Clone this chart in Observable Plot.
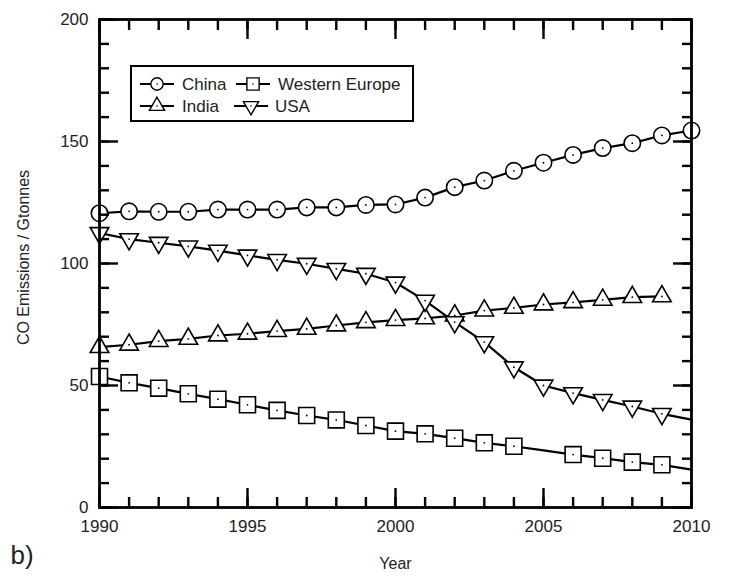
<!DOCTYPE html>
<html><head><meta charset="utf-8">
<script src="https://cdn.jsdelivr.net/npm/d3@7"></script>
<script src="https://cdn.jsdelivr.net/npm/@observablehq/plot@0.6"></script>
<style>
body{margin:0;background:#fff;font-family:"Liberation Sans",Arial,sans-serif}
#wrap{position:relative;width:729px;height:578px}
#legend{position:absolute;left:0;top:0;pointer-events:none}
</style>
</head><body><div id="wrap"></div>
<script>
const years = [1990,1991,1992,1993,1994,1995,1996,1997,1998,1999,2000,2001,2002,2003,2004,2005,2006,2007,2008,2009,2010];
const china = [120.6,121.4,121.2,121.2,122.1,122.1,122.1,123,123,124,124.2,127,131.3,134,138,141.3,144.5,147.3,149.3,152.5,154.5];
const india = [65.7,66.7,68.2,69.1,70.5,71.2,72.3,73.2,74.6,75.9,76.8,77.5,78.7,80.7,81.8,83.2,84.1,85.1,86.2,86.5];
const westernEurope = [53.7,51.1,48.9,46.6,44.4,42.1,39.8,37.7,35.9,33.6,31.3,30.2,28.4,26.5,25.1,23.4,21.7,20.2,18.6,17.5,15.5];
const usa = [112.5,110,108.5,107,105.3,103.3,101.5,99.9,97.8,95.8,92.2,84.8,76,67.8,57.5,50,46.9,44.1,41.4,38.4,36];
const westernEuropeNoMarker = [2005, 2010];
const usaNoMarker = [2010];
const seriesNames = ["China", "Western Europe", "India", "USA"];
const xMajorTicks = [1990, 1995, 2000, 2005, 2010];
const xMinorTicks = years;
const yMajorTicks = [0, 50, 100, 150, 200];
const yMinorTicks = [0,10,20,30,40,50,60,70,80,90,100,110,120,130,140,150,160,170,180,190,200];

function rowsOf(name, vals, skip = []) {
  return vals.map((v, i) => ({series: name, year: years[i], value: v, marker: !skip.includes(years[i])}));
}
const rows = [
  ...rowsOf("China", china),
  ...rowsOf("Western Europe", westernEurope, westernEuropeNoMarker),
  ...rowsOf("India", india),
  ...rowsOf("USA", usa, usaNoMarker)
];
const markerRows = rows.filter(d => d.marker);
const bySeries = s => markerRows.filter(d => d.series === s);

const sym = {"China": {symbol: "circle", r: 8.2, rotate: 0},
             "Western Europe": {symbol: "square", r: 9, rotate: 0},
             "India": {symbol: "triangle", r: 6.9, rotate: 0},
             "USA": {symbol: "triangle", r: 6.9, rotate: 180}};

const tickAxis = (fn, ticks, anchor, size) =>
  fn({ticks, anchor, tickSize: size, tickFormat: () => "", label: null, strokeWidth: 2.4});

const marks = [
  Plot.line(rows, {x: "year", y: "value", z: "series", stroke: "black", strokeWidth: 2.2}),
  ...seriesNames.map(s => Plot.dot(bySeries(s), {x: "year", y: "value", symbol: sym[s].symbol, r: sym[s].r, rotate: sym[s].rotate, fill: "white", stroke: "black", strokeWidth: 1.6})),
  Plot.dot(markerRows, {x: "year", y: "value", r: 0.9, fill: "black"}),
  // ticks inward, all four sides
  tickAxis(Plot.axisX, xMinorTicks, "bottom", -10),
  tickAxis(Plot.axisX, xMajorTicks, "bottom", -19),
  tickAxis(Plot.axisX, xMinorTicks, "top", -10),
  tickAxis(Plot.axisX, xMajorTicks, "top", -19),
  tickAxis(Plot.axisY, yMinorTicks, "left", -10),
  tickAxis(Plot.axisY, yMajorTicks, "left", -19),
  tickAxis(Plot.axisY, yMinorTicks, "right", -10),
  tickAxis(Plot.axisY, yMajorTicks, "right", -19),
  // tick labels
  Plot.axisX({ticks: xMajorTicks, anchor: "bottom", tickSize: 0, tickPadding: 12, tickFormat: d => String(d), label: null, fontSize: 17, fill: "#222"}),
  Plot.axisY({ticks: yMajorTicks, anchor: "left", tickSize: 0, tickPadding: 11, tickFormat: d => String(d), label: null, fontSize: 17, fill: "#222"}),
  Plot.frame({stroke: "black", strokeWidth: 2.8}),
  Plot.text(["Year"], {frameAnchor: "bottom", dy: 56, fontSize: 16, lineAnchor: "middle", textAnchor: "middle", fill: "#222"}),
  Plot.text(["CO Emissions / Gtonnes"], {frameAnchor: "left", dx: -76, dy: -6, rotate: -90, fontSize: 16, lineAnchor: "middle", textAnchor: "middle", fill: "#222"}),
  Plot.text(["b)"], {frameAnchor: "bottom-left", dx: -89, dy: 48, fontSize: 26, lineAnchor: "middle", textAnchor: "start", fill: "#222"})
];

const chart = Plot.plot({
  width: 729, height: 578,
  marginLeft: 99, marginRight: 38, marginTop: 19, marginBottom: 71,
  x: {domain: [1990, 2010], axis: null},
  y: {domain: [0, 200], axis: null},
  style: {fontFamily: "Liberation Sans, Arial, sans-serif", background: "white", overflow: "visible"},
  marks
});
const wrap = document.getElementById("wrap");
wrap.appendChild(chart);

// legend overlay
const lg = d3.select(wrap).append("svg").attr("id", "legend").attr("width", 729).attr("height", 578)
  .style("font-family", "Liberation Sans, Arial, sans-serif");
lg.append("rect").attr("x", 131).attr("y", 66).attr("width", 282).attr("height", 55)
  .attr("fill", "white").attr("stroke", "black").attr("stroke-width", 2);
const items = [
  {name: "China", lx1: 140, lx2: 174, cx: 157, cy: 84, tx: 182, shape: d3.symbolCircle, size: 120, rot: 0},
  {name: "Western Europe", lx1: 236, lx2: 270, cx: 253, cy: 84, tx: 278, shape: d3.symbolSquare, size: 150, rot: 0},
  {name: "India", lx1: 140, lx2: 174, cx: 157, cy: 106, tx: 182, shape: d3.symbolTriangle, size: 100, rot: 0},
  {name: "USA", lx1: 234, lx2: 268, cx: 251, cy: 106, tx: 275, shape: d3.symbolTriangle, size: 100, rot: 180}
];
for (const it of items) {
  lg.append("line").attr("x1", it.lx1).attr("x2", it.lx2).attr("y1", it.cy).attr("y2", it.cy)
    .attr("stroke", "black").attr("stroke-width", 2);
  lg.append("path").attr("d", d3.symbol(it.shape, it.size)())
    .attr("transform", `translate(${it.cx},${it.cy}) rotate(${it.rot})`)
    .attr("fill", "white").attr("stroke", "black").attr("stroke-width", 1.4);
  lg.append("circle").attr("cx", it.cx).attr("cy", it.cy).attr("r", 0.8).attr("fill", "black");
  lg.append("text").attr("x", it.tx).attr("y", it.cy).attr("dy", "0.35em")
    .attr("font-size", 17).attr("fill", "#222").text(it.name);
}
</script>
</body></html>
